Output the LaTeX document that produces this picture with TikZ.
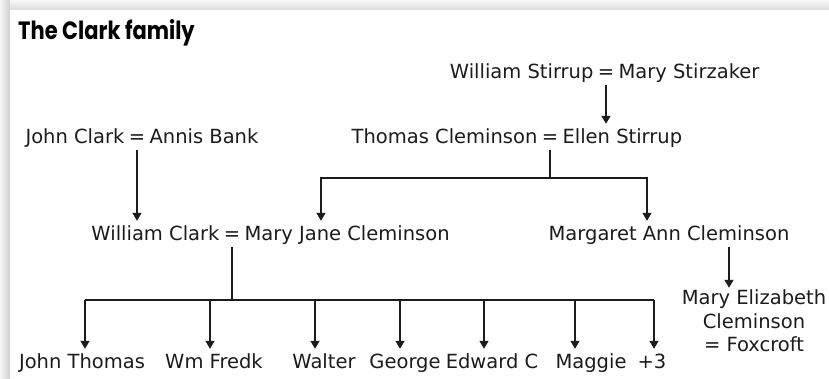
\documentclass[tikz,border=0pt]{standalone}
\usepackage{fontspec}
\setmainfont{DejaVu Sans}
\newfontfamily\titlefont{Poppins}
\usetikzlibrary{positioning,arrows.meta,calc}
\definecolor{InkGrey}{RGB}{28,28,28}

\begin{document}
\begin{tikzpicture}[x=1pt, y=-1pt,
  every node/.style={font=\fontsize{19.5}{23.5}\selectfont, text=InkGrey, inner sep=2pt},
  person/.style={text height=17pt, text depth=5pt},
  link/.style={line width=1.4pt, InkGrey},
  arr/.style={link, -{Triangle[width=9pt,length=8pt]}}]
  \useasboundingbox (0,0) rectangle (829,378);
  % page shadow
  \shade[left color=gray!6, right color=gray!38] (0,0) rectangle (10,378);
  \shade[top color=gray!6, bottom color=gray!28] (10,0) rectangle (829,10);
  \fill[white] (10,10) rectangle (829,378);

  \node[anchor=base west, inner sep=0pt, font=\titlefont\bfseries\fontsize{25}{30}\selectfont, text=black]
    (title) at (18,39) {\scalebox{0.84}[1]{The Clark family}};

  % couples
  \node[person] (wseq) at (606,72) {=};
  \node[person, left=0pt of wseq] (wstirrup) {William Stirrup};
  \node[person, right=0pt of wseq] (mstirzaker) {Mary Stirzaker};

  \node[person] (tceq) at (550,137) {=};
  \node[person, left=0pt of tceq] (tcleminson) {Thomas Cleminson};
  \node[person, right=0pt of tceq] (estirrup) {Ellen Stirrup};

  \node[person] (jceq) at (137,137) {=};
  \node[person, left=0pt of jceq] (jclark) {John Clark};
  \node[person, right=0pt of jceq] (abank) {Annis Bank};

  \node[person] (wceq) at (232,234) {=};
  \node[person, left=0pt of wceq] (wclark) {William Clark};
  \node[person, right=0pt of wceq] (mjcleminson) {Mary Jane Cleminson};

  \node[person] (margaret) at (669,234) {Margaret Ann Cleminson};
  \node[align=center] (maryeliz) at (754,321) {Mary Elizabeth\\Cleminson\\= Foxcroft};

  % children
  \node[person] (jthomas) at (82,362) {John Thomas};
  \node[person] (wmfredk) at (214,362) {Wm Fredk};
  \node[person] (walter) at (324,362) {Walter};
  \node[person] (george) at (405,362) {George};
  \node[person] (edwardc) at (492,362) {Edward C};
  \node[person] (maggie) at (591,362) {Maggie};
  \node[person] (plusthree) at (652,362) {+3};

  % descent lines
  \draw[arr] (wseq.south) -- (wseq.south |- estirrup.north);
  \draw[arr] (jceq.south) -- (jceq.south |- wclark.north);

  \coordinate (cleft) at (321,178);
  \coordinate (cright) at (647,178);
  \draw[link] (tceq.south) -- (tceq.south |- cleft);
  \draw[arr] (tceq.south |- cleft) -- (cleft) -- (cleft |- mjcleminson.north);
  \draw[arr] (tceq.south |- cright) -- (cright) -- (cright |- margaret.north);

  \draw[arr] ([xshift=60pt]margaret.south) -- ([xshift=60pt]margaret.south |- maryeliz.north);

  \foreach \kid/\bx in {jthomas/85, wmfredk/210, walter/315, george/400,
                        edwardc/484, maggie/575, plusthree/654}{
    \coordinate (bar-\kid) at (\bx,300);
    \draw[arr] (bar-\kid) -- (bar-\kid |- \kid.north);
  }
  \draw[link] (bar-jthomas) -- (bar-plusthree);
  \draw[link] (wceq.south) -- (wceq.south |- bar-jthomas);
\end{tikzpicture}
\end{document}
